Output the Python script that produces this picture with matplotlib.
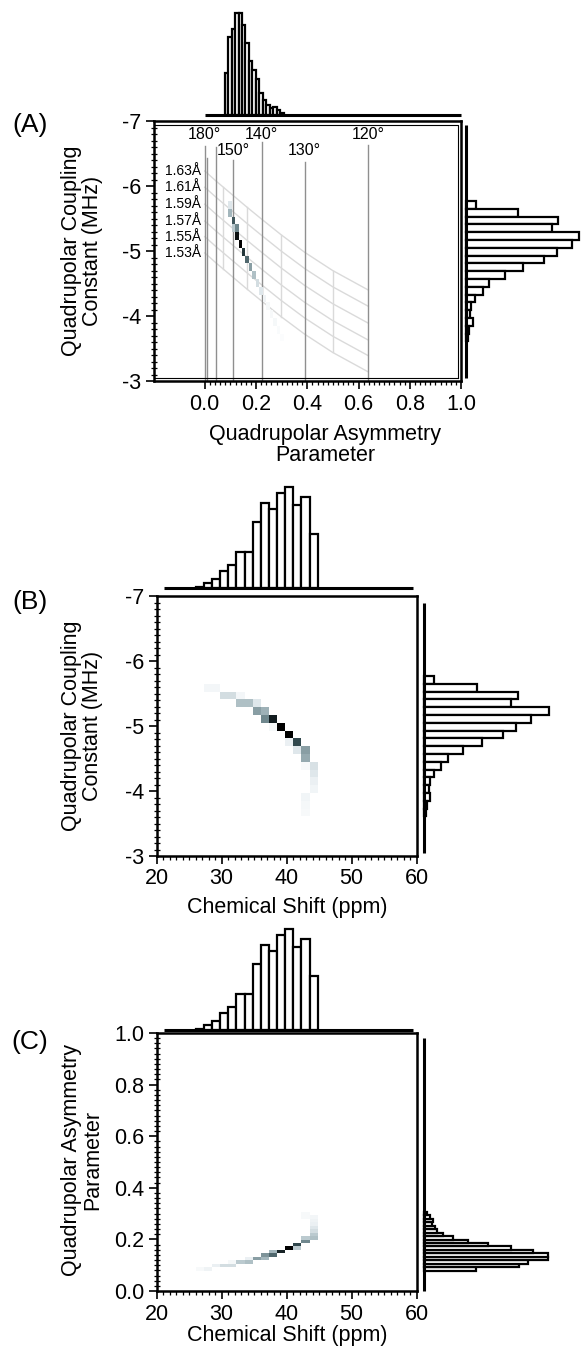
import numpy as np
import matplotlib
matplotlib.use('Agg')
import matplotlib.pyplot as plt
from matplotlib.colors import LinearSegmentedColormap
from matplotlib.ticker import MultipleLocator, FixedLocator, FormatStrFormatter

plt.rcParams['font.family'] = ['Liberation Sans', 'DejaVu Sans']
plt.rcParams['axes.unicode_minus'] = False

# ---------------- data ----------------
# eta histogram (A top, C right)
eta_edges = [0.078, 0.0915, 0.105, 0.1185, 0.132, 0.1455, 0.159, 0.1725, 0.186,
             0.1995, 0.213, 0.2265, 0.24, 0.2535, 0.267, 0.2805, 0.294, 0.3075]
eta_hist_A = [125, 233, 257, 305, 305, 270, 215, 160, 135, 107, 65, 45, 30, 20, 23, 15, 7]
eta_hist_C = [156, 286, 313, 373, 373, 328, 263, 193, 133, 88, 56, 38, 33, 23, 28, 18, 8]

# Cq histogram (A right, B right)
cq_edges = [-5.77, -5.65, -5.53, -5.41, -5.29, -5.17, -5.05, -4.93, -4.81, -4.69,
            -4.57, -4.45, -4.33, -4.21, -4.09, -3.97, -3.85, -3.73, -3.61]
cq_hist_A = [30, 155, 278, 260, 340, 320, 273, 235, 172, 118, 68, 50, 28, 15, 12, 20, 10, 5]
cq_hist_B = [30, 157, 279, 260, 372, 319, 275, 235, 172, 117, 70, 50, 30, 17, 14, 19, 10, 5]

# chemical shift histogram (B top, C top)
cs_edges = [26.05, 27.3, 28.55, 29.8, 31.05, 32.3, 33.55, 34.8, 36.05, 37.3,
            38.55, 39.8, 41.05, 42.3, 43.55, 44.8]
cs_hist_B = [3, 15, 27, 50, 70, 107, 107, 197, 255, 235, 285, 302, 247, 272, 162]
cs_hist_C = [3, 15, 27, 50, 70, 107, 107, 197, 255, 235, 285, 302, 247, 272, 162]

# 2D cells, panel A: (eta, Cq, intensity)
a_eta = [0.098, 0.098, 0.112, 0.112, 0.125, 0.125, 0.139, 0.152, 0.166, 0.179,
         0.193, 0.206, 0.220, 0.233, 0.247, 0.260, 0.274, 0.287, 0.301]
a_cq = [-5.71, -5.59, -5.47, -5.35, -5.35, -5.23, -5.11, -4.99, -4.87, -4.75,
        -4.63, -4.51, -4.39, -4.27, -4.15, -4.03, -3.91, -3.79, -3.67]
a_w = [0.15, 0.4, 0.75, 0.3, 0.6, 0.95, 1.0, 0.85, 0.7, 0.5,
       0.35, 0.2, 0.15, 0.08, 0.05, 0.04, 0.05, 0.03, 0.02]

# 2D cells, panel B: (shift, Cq, intensity)
b_cs = [27.9, 29.2, 30.4, 31.7, 32.9, 32.9, 34.2, 35.4, 35.4, 36.7, 36.7, 37.9,
        37.9, 39.2, 40.4, 40.4, 41.7, 41.7, 42.9, 42.9, 42.9, 44.2, 44.2, 44.2,
        44.2, 42.9, 42.9, 42.9]
b_cq = [-5.59, -5.59, -5.47, -5.47, -5.47, -5.35, -5.35, -5.35, -5.23, -5.23, -5.11, -5.11,
        -4.99, -4.99, -4.87, -4.75, -4.75, -4.63, -4.63, -4.51, -4.39, -4.39, -4.27, -4.15,
        -4.03, -3.91, -3.79, -3.67]
b_w = [0.06, 0.06, 0.2, 0.2, 0.06, 0.35, 0.35, 0.15, 0.5, 0.42, 0.6, 0.92,
       0.05, 1.0, 1.0, 0.1, 0.8, 0.15, 0.5, 0.45, 0.04, 0.18, 0.15, 0.1,
       0.07, 0.07, 0.05, 0.04]

# 2D cells, panel C: (shift, eta, intensity)
c_cs = [26.7, 27.9, 29.2, 30.4, 31.7, 31.7, 32.9, 34.2, 34.2, 35.4, 36.7, 36.7,
        37.9, 37.9, 39.2, 40.4, 41.7, 41.7, 42.9, 42.9, 44.2, 44.2, 44.2, 44.2,
        44.2, 44.2, 44.2, 42.9, 42.9]
c_eta = [0.085, 0.085, 0.098, 0.098, 0.098, 0.112, 0.112, 0.112, 0.125, 0.125, 0.125, 0.139,
         0.139, 0.152, 0.152, 0.166, 0.166, 0.179, 0.193, 0.206, 0.206, 0.220, 0.233, 0.247,
         0.260, 0.274, 0.287, 0.287, 0.301]
c_w = [0.04, 0.08, 0.1, 0.2, 0.2, 0.05, 0.3, 0.35, 0.1, 0.5, 0.4, 0.55,
       0.7, 0.4, 0.9, 1.0, 0.3, 0.8, 0.6, 0.3, 0.35, 0.3, 0.2, 0.15,
       0.1, 0.08, 0.06, 0.04, 0.04]

# reference grid in panel A
angle_labels = ['180°', '150°', '140°', '130°', '120°']
angle_label_eta = [0.0, 0.112, 0.222, 0.39, 0.638]
angle_label_cq = [-6.785, -6.54, -6.785, -6.54, -6.785]
angle_line_eta = [0.0, 0.009, 0.043, 0.112, 0.222, 0.39, 0.638]
angle_line_top = [-6.62, -6.43, -6.60, -6.40, -6.68, -6.37, -6.63]
bond_labels = ['1.63Å', '1.61Å', '1.59Å', '1.57Å', '1.55Å', '1.53Å']
bond_cq0 = [-6.23, -5.98, -5.72, -5.46, -5.22, -4.97]
mesh_eta = [0.0, 0.009, 0.043, 0.07, 0.112, 0.163, 0.222, 0.298, 0.39, 0.499, 0.638]
mesh_top = [-6.23, -6.20, -6.08, -5.99, -5.85, -5.68, -5.49, -5.25, -4.98, -4.70, -4.40]
mesh_light_cols = [3, 5, 7, 9]

# ---------------- figure ----------------
W, H = 582, 1353
fig = plt.figure(figsize=(W / 100, H / 100), dpi=100)


def px_axes(x0, y0, x1, y1):
    return fig.add_axes([x0 / W, 1 - y1 / H, (x1 - x0) / W, (y1 - y0) / H])


cmap = LinearSegmentedColormap.from_list(
    'slate', [(0.0, '#ffffff'), (0.12, '#e6edf0'), (0.4, '#a3b6bc'),
              (0.62, '#6b8389'), (0.82, '#2a4146'), (1.0, '#000000')])

FS = 15.5
SPW = 1.8
BLW = 1.6


def style_main(ax, xmaj, xmin, ymaj, ymin):
    for s in ax.spines.values():
        s.set_linewidth(SPW)
    ax.xaxis.set_major_locator(FixedLocator(xmaj))
    ax.xaxis.set_minor_locator(FixedLocator(xmin))
    ax.yaxis.set_major_locator(MultipleLocator(ymaj))
    ax.yaxis.set_minor_locator(MultipleLocator(ymin))
    ax.tick_params(axis='both', which='major', labelsize=FS, length=6, width=1.2,
                   direction='out', pad=3, top=False, right=False)
    ax.tick_params(axis='x', which='minor', length=3, width=0.9, direction='out',
                   top=False)
    ax.tick_params(axis='y', which='minor', length=4, width=0.9, direction='inout',
                   right=False)


def grid2d(xs, ys, ws, xedges, yedges):
    Hm, _, _ = np.histogram2d(xs, ys, bins=[xedges, yedges], weights=ws)
    return np.ma.masked_equal(Hm.T, 0)


def top_hist(ax, edges, vals, xlim, base):
    e = np.asarray(edges)
    ax.bar(e[:-1], vals, width=np.diff(e), align='edge', facecolor='white',
           edgecolor='black', linewidth=BLW, clip_on=False, zorder=2)
    ax.plot(base, [0, 0], color='black', lw=2.2, clip_on=False, zorder=3,
            solid_capstyle='butt')
    ax.set_xlim(*xlim)
    ax.set_ylim(0, max(vals))
    ax.axis('off')


def right_hist(ax, edges, vals, ylim, base):
    e = np.asarray(edges)
    ax.barh(e[:-1], vals, height=np.diff(e), align='edge', facecolor='white',
            edgecolor='black', linewidth=BLW, clip_on=False, zorder=2)
    ax.plot([0, 0], base, color='black', lw=2.2, clip_on=False, zorder=3,
            solid_capstyle='butt')
    ax.set_ylim(*ylim)
    ax.set_xlim(0, max(vals))
    ax.axis('off')


# ---------- Panel A ----------
axA = px_axes(153.5, 121, 461, 381)
axA.set_xlim(-0.2, 1.0)
axA.set_ylim(-3, -7)
style_main(axA, np.linspace(0, 1, 6), np.linspace(0, 1, 51), 1, 0.1)
axA.xaxis.set_major_formatter(FormatStrFormatter('%.1f'))
axA.yaxis.set_major_formatter(FormatStrFormatter('%d'))
# thin inner frame line (double-frame look)
fx = 3.5 / 307.5
fy = 3.5 / 260.0
axA.plot([0, 1 - fx, 1 - fx], [1 - fy, 1 - fy, fy], transform=axA.transAxes,
         color='black', lw=0.8, zorder=5, clip_on=False)
axA.plot([0, 1 - fx], [fy, fy], transform=axA.transAxes,
         color='black', lw=0.8, zorder=5, clip_on=False)

mesh_top_arr = np.asarray(mesh_top)
offs = np.asarray(bond_cq0) - bond_cq0[0]
mesh = mesh_top_arr[None, :] + offs[:, None]
for row in mesh:
    axA.plot(mesh_eta, row, color='#dadada', lw=1.0, zorder=1)
for ci in mesh_light_cols:
    axA.plot([mesh_eta[ci]] * 2, [mesh[0, ci], mesh[-1, ci]], color='#dadada',
             lw=1.0, zorder=1)
for e, t in zip(angle_line_eta, angle_line_top):
    axA.plot([e, e], [t, -3], color='#8f8f8f', lw=1.0, zorder=1.5)
for lab, e, c in zip(angle_labels, angle_label_eta, angle_label_cq):
    axA.text(e, c, lab, ha='center', va='center', fontsize=11.5, zorder=4)
for lab, c in zip(bond_labels, bond_cq0):
    axA.text(-0.016, c, lab, ha='right', va='center', fontsize=10, zorder=4)

gA = grid2d(a_eta, a_cq, a_w, eta_edges, cq_edges)
axA.pcolormesh(eta_edges, cq_edges, gA, cmap=cmap, vmin=0, vmax=1, zorder=3)

axAt = px_axes(153.5, 13, 461, 115)
top_hist(axAt, eta_edges, eta_hist_A, (-0.2, 1.0), [0.0, 1.0])
axAr = px_axes(466, 121, 579, 381)
right_hist(axAr, cq_edges, cq_hist_A, (-3, -7), [-6.94, -3.05])

# ---------- Panel B ----------
axB = px_axes(156.5, 596, 416.5, 856)
axB.set_xlim(20, 60)
axB.set_ylim(-3, -7)
style_main(axB, np.arange(20, 61, 10), np.arange(20, 61, 1), 1, 0.1)
axB.yaxis.set_major_formatter(FormatStrFormatter('%d'))
gB = grid2d(b_cs, b_cq, b_w, cs_edges, cq_edges)
axB.pcolormesh(cs_edges, cq_edges, gB, cmap=cmap, vmin=0, vmax=1, zorder=3)

axBt = px_axes(156.5, 487, 416.5, 588)
top_hist(axBt, cs_edges, cs_hist_B, (20, 60), [21.2, 59.5])
axBr = px_axes(424, 596, 549, 856)
right_hist(axBr, cq_edges, cq_hist_B, (-3, -7), [-6.9, -3.05])

# ---------- Panel C ----------
axC = px_axes(156.5, 1033, 416.5, 1291)
axC.set_xlim(20, 60)
axC.set_ylim(0, 1)
style_main(axC, np.arange(20, 61, 10), np.arange(20, 61, 1), 0.2, 0.02)
axC.yaxis.set_major_formatter(FormatStrFormatter('%.1f'))
gC = grid2d(c_cs, c_eta, c_w, cs_edges, eta_edges)
axC.pcolormesh(cs_edges, eta_edges, gC, cmap=cmap, vmin=0, vmax=1, zorder=3)

axCt = px_axes(156.5, 929, 416.5, 1030)
top_hist(axCt, cs_edges, cs_hist_C, (20, 60), [21.2, 59.5])
axCr = px_axes(424, 1033, 548, 1291)
right_hist(axCr, eta_edges, eta_hist_C, (0, 1), [0.0, 0.98])

# ---------- labels ----------
def ftext(x, y, s, **kw):
    fig.text(x / W, 1 - y / H, s, **kw)

ftext(30, 125, '(A)', fontsize=19, ha='center', va='center')
ftext(30, 602, '(B)', fontsize=19, ha='center', va='center')
ftext(30, 1042, '(C)', fontsize=19, ha='center', va='center')

ftext(82, 251, 'Quadrupolar Coupling\nConstant (MHz)', fontsize=FS, rotation=90,
      ha='center', va='center', linespacing=1.05, multialignment='center')
ftext(82, 726, 'Quadrupolar Coupling\nConstant (MHz)', fontsize=FS, rotation=90,
      ha='center', va='center', linespacing=1.05, multialignment='center')
ftext(82, 1160, 'Quadrupolar Asymmetry\nParameter', fontsize=FS, rotation=90,
      ha='center', va='center', linespacing=1.05, multialignment='center')

ftext(325, 445, 'Quadrupolar Asymmetry\nParameter', fontsize=FS, ha='center',
      va='center', linespacing=1.05, multialignment='center')
ftext(287, 907, 'Chemical Shift (ppm)', fontsize=FS, ha='center', va='center')
ftext(287, 1335, 'Chemical Shift (ppm)', fontsize=FS, ha='center', va='center')

fig.savefig('out.png', dpi=100, facecolor='white')
